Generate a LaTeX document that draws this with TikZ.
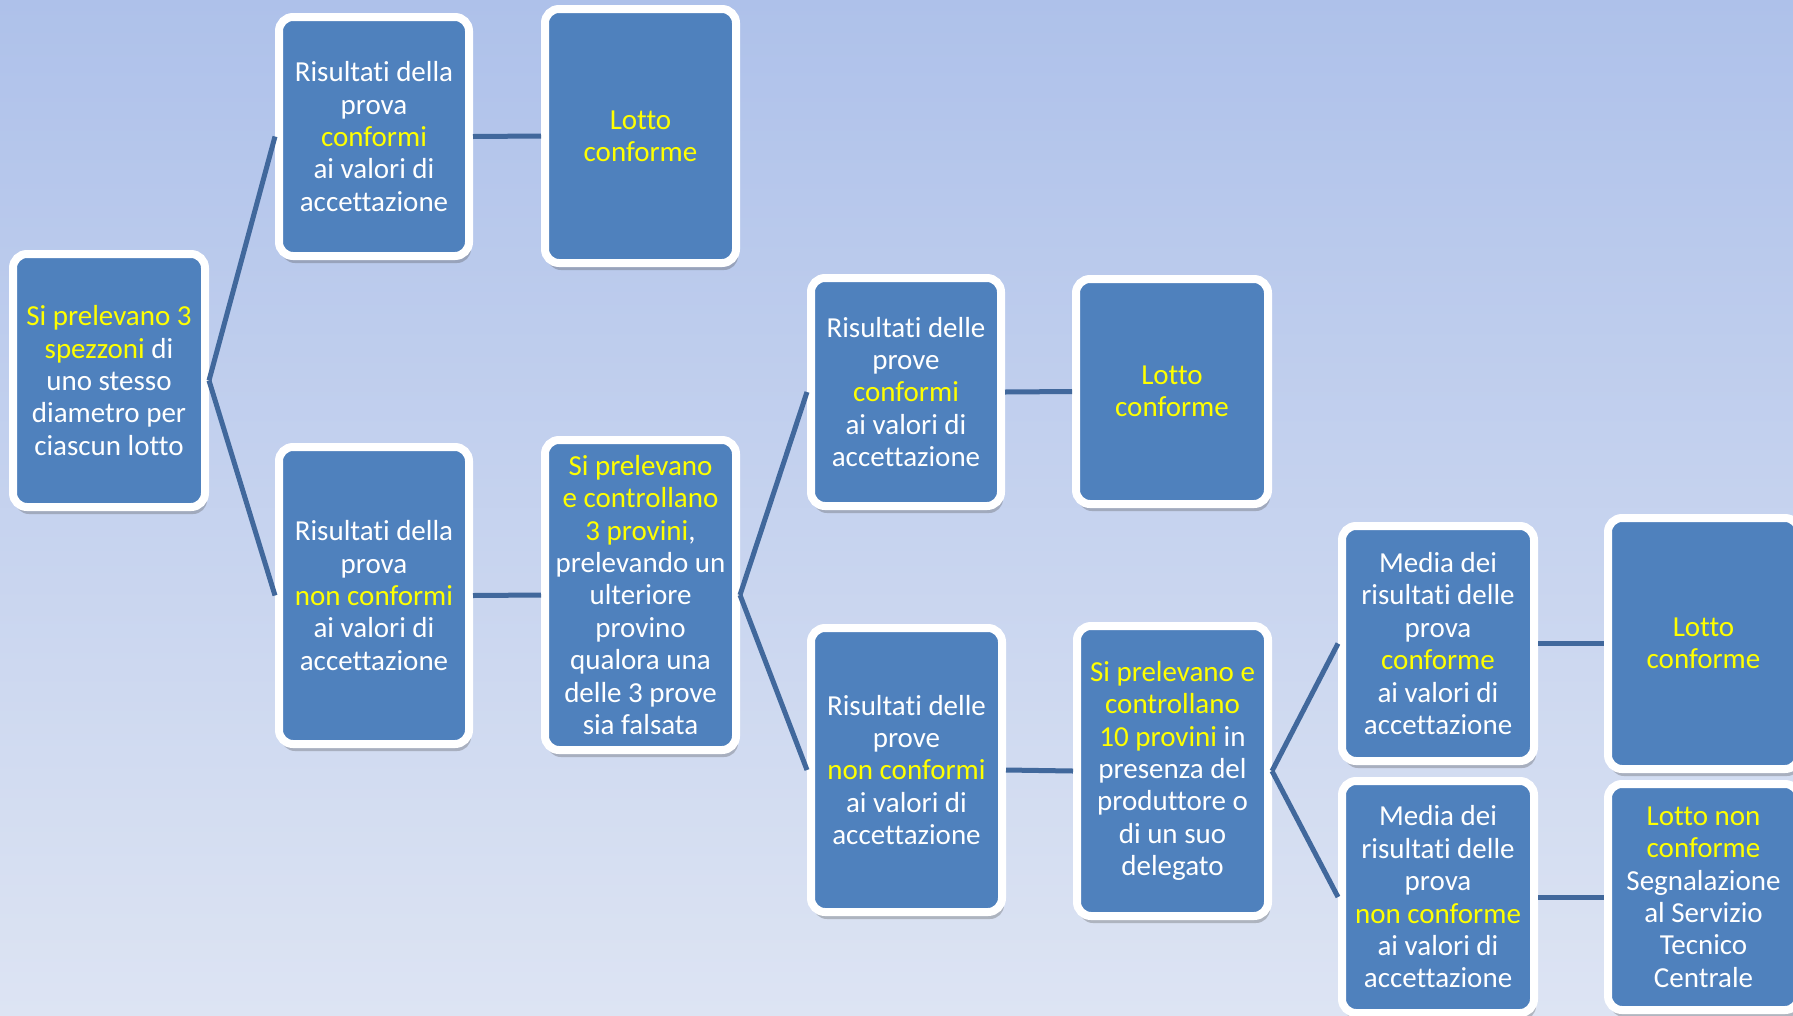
\documentclass[tikz,border=0pt]{standalone}
\usepackage{fontspec}
\setmainfont{Carlito}[Ligatures=NoCommon]
\usetikzlibrary{shadows}
\definecolor{boxblue}{HTML}{4F81BD}
\definecolor{linkblue}{HTML}{41689C}
\definecolor{bgtop}{HTML}{AEC1EA}
\definecolor{bgbot}{HTML}{DDE4F3}
\definecolor{hl}{HTML}{FFFF00}
\newcommand{\hlt}[1]{\textcolor{hl}{#1}}
\begin{document}
\begin{tikzpicture}[x=1pt,y=-1pt,
  card/.style={draw=white, line width=8pt, fill=boxblue, rounded corners=14pt,
    text=white, align=center, inner sep=0pt,
    font=\fontsize{29}{32.4}\selectfont,
    drop shadow={opacity=0.3, fill=black!70, shadow xshift=2pt, shadow yshift=-7pt}},
  link/.style={draw=linkblue, line width=5pt},
]
\useasboundingbox (0,0) rectangle (1793,1015);
\clip (0,0) rectangle (1793,1015);
\shade[top color=bgtop, bottom color=bgbot] (0,0) rectangle (1793,1015);

% column 1
\node[card, minimum width=192pt, minimum height=253pt] (root) at (109,380.5)
  {\hlt{Si prelevano 3}\\\hlt{spezzoni} di\\uno stesso\\diametro per\\ciascun lotto};
% column 2
\node[card, minimum width=190pt, minimum height=239pt] (b1) at (374,136.5)
  {Risultati della\\prova\\\hlt{conformi}\\ai valori di\\accettazione};
\node[card, minimum width=190pt, minimum height=297pt] (b2) at (374,595.5)
  {Risultati della\\prova\\\hlt{non conformi}\\ai valori di\\accettazione};
% column 3
\node[card, minimum width=191pt, minimum height=254pt] (c1) at (640.5,136)
  {\hlt{Lotto}\\\hlt{conforme}};
\node[card, minimum width=191pt, minimum height=310pt] (c2) at (640.5,595)
  {\hlt{Si prelevano}\\\hlt{e controllano}\\\hlt{3 provini},\\prelevando un\\ulteriore\\provino\\qualora una\\delle 3 prove\\sia falsata};
% column 4
\node[card, minimum width=190pt, minimum height=228pt] (d1) at (906,392)
  {Risultati delle\\prove\\\hlt{conformi}\\ai valori di\\accettazione};
\node[card, minimum width=191pt, minimum height=284pt] (d2) at (906.5,770)
  {Risultati delle\\prove\\\hlt{non conformi}\\ai valori di\\accettazione};
% column 5
\node[card, minimum width=192pt, minimum height=225pt] (e1) at (1172,391.5)
  {\hlt{Lotto}\\\hlt{conforme}};
\node[card, minimum width=191pt, minimum height=290pt] (e2) at (1172.5,771)
  {\hlt{Si prelevano e}\\\hlt{controllano}\\\hlt{10 provini} in\\presenza del\\produttore o\\di un suo\\delegato};
% column 6
\node[card, minimum width=192pt, minimum height=235pt] (f1) at (1438,643.5)
  {Media dei\\risultati delle\\prova\\\hlt{conforme}\\ai valori di\\accettazione};
\node[card, minimum width=192pt, minimum height=232pt] (f2) at (1438,897)
  {Media dei\\risultati delle\\prova\\\hlt{non conforme}\\ai valori di\\accettazione};
% column 7
\node[card, minimum width=191pt, minimum height=251pt] (g1) at (1703.5,643.5)
  {\hlt{Lotto}\\\hlt{conforme}};
\node[card, minimum width=191pt, minimum height=226pt] (g2) at (1703.5,897)
  {\hlt{Lotto non}\\\hlt{conforme}\\Segnalazione\\al Servizio\\Tecnico\\Centrale};

% connectors
\draw[link] (root.east) -- (b1.west);
\draw[link] (root.east) -- (b2.west);
\draw[link] (b1.east) -- (c1.west);
\draw[link] (b2.east) -- (c2.west);
\draw[link] (c2.east) -- (d1.west);
\draw[link] (c2.east) -- (d2.west);
\draw[link] (d1.east) -- (e1.west);
\draw[link] (d2.east) -- (e2.west);
\draw[link] (e2.east) -- (f1.west);
\draw[link] (e2.east) -- (f2.west);
\draw[link] (f1.east) -- (g1.west);
\draw[link] (f2.east) -- (g2.west);
\end{tikzpicture}
\end{document}
